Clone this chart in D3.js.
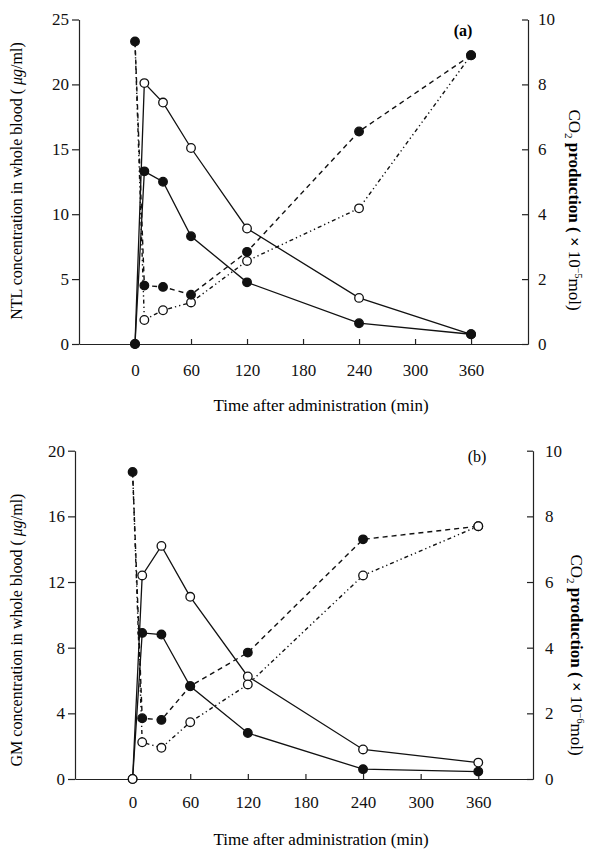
<!DOCTYPE html>
<html lang="en">
  <head>
    <meta charset="UTF-8" />
    <title>NTL / GM concentration and CO2 production</title>
    <script src="https://cdn.jsdelivr.net/npm/d3@7"></script>
    <style>
      body {
        margin: 0;
        background: #fff;
      }
      svg {
        font-family: "Liberation Serif", "DejaVu Serif", serif;
        color: #111;
      }
    </style>
  </head>
  <body>
    <script>
      // sampling times (min)
      const times = [0, 10, 30, 60, 120, 240, 360];
      const xTicks = [0, 60, 120, 180, 240, 300, 360];

      // panel (a): NTL in whole blood (ug/ml), left axis
      const ntlFilled = [0, 13.3, 12.5, 8.3, 4.75, 1.6, 0.75];
      const ntlOpen = [0, 20.1, 18.6, 15.1, 8.9, 3.55, 0.75];
      // panel (a): CO2 production, right axis
      const co2FilledA = [9.32, 1.8, 1.76, 1.52, 2.84, 6.55, 8.9];
      const co2OpenA = [9.32, 0.74, 1.04, 1.28, 2.56, 4.18, 8.9];

      // panel (b): GM in whole blood (ug/ml), left axis
      const gmFilled = [0, 8.9, 8.8, 5.65, 2.8, 0.6, 0.45];
      const gmOpen = [0, 12.4, 14.2, 11.1, 6.25, 1.8, 1.0];
      // panel (b): CO2 production, right axis
      const co2FilledB = [9.35, 1.85, 1.8, 2.83, 3.85, 7.3, 7.7];
      const co2OpenB = [9.35, 1.12, 0.95, 1.73, 2.88, 6.2, 7.7];

      const leftTicksA = [0, 5, 10, 15, 20, 25];
      const leftTicksB = [0, 4, 8, 12, 16, 20];
      const rightTicks = [0, 2, 4, 6, 8, 10];

      const width = 589;
      const height = 849;

      const svg = d3
        .select("body")
        .append("svg")
        .attr("width", width)
        .attr("height", height);

      function drawPanel(p) {
        const g = svg.append("g");
        const x = d3.scaleLinear().domain(p.xDomain).range(p.xRange);
        const yL = d3.scaleLinear().domain([0, p.leftMax]).range(p.yRange);
        const yR = d3.scaleLinear().domain([0, 10]).range(p.yRange);

        // axes
        const xAxis = d3
          .axisBottom(x)
          .tickValues(xTicks)
          .tickSize(-5)
          .tickSizeOuter(0)
          .tickPadding(p.xPad);
        const gx = g
          .append("g")
          .attr("transform", "translate(0," + p.yRange[0] + ")")
          .call(xAxis);

        const gl = g
          .append("g")
          .attr("transform", "translate(" + p.xRange[0] + ",0)")
          .call(
            d3
              .axisLeft(yL)
              .tickValues(p.leftTicks)
              .tickSize(7)
              .tickSizeOuter(0)
              .tickPadding(3)
          );

        const gr = g
          .append("g")
          .attr("transform", "translate(" + p.xRange[1] + ",0)")
          .call(
            d3
              .axisRight(yR)
              .tickValues(rightTicks)
              .tickSize(-6)
              .tickSizeOuter(0)
              .tickPadding(p.rPad)
          );

        [gx, gl, gr].forEach(a => {
          a.selectAll("text")
            .style("font-size", "17px")
            .style("font-family", "Liberation Serif")
            .attr("fill", "#111");
          a.selectAll("path,line").attr("stroke", "#222").attr("stroke-width", 1.2);
        });

        // lines
        p.series.forEach(s => {
          const y = s.axis === "left" ? yL : yR;
          const line = d3
            .line()
            .x((d, i) => x(times[i]))
            .y(d => y(d));
          g.append("path")
            .datum(s.values)
            .attr("fill", "none")
            .attr("stroke", "#111")
            .attr("stroke-width", s.dash ? 1.4 : 1.3)
            .attr("stroke-dasharray", s.dash || null)
            .attr("d", line);
        });

        // markers
        p.series.forEach(s => {
          const y = s.axis === "left" ? yL : yR;
          g.selectAll(null)
            .data(s.values.map((v, i) => ({ t: times[i], v: v, i: i })))
            .enter()
            .filter(d => !(s.skipFirst && d.i === 0))
            .append("circle")
            .attr("cx", d => x(d.t))
            .attr("cy", d => y(d.v))
            .attr("r", 4.3)
            .attr("fill", s.filled ? "#111" : "#fff")
            .attr("stroke", "#111")
            .attr("stroke-width", 1.3);
        });

        // axis titles
        g.append("text")
          .attr("x", 321)
          .attr("y", p.xTitleY)
          .attr("text-anchor", "middle")
          .style("font-size", "17px")
          .text("Time after administration (min)");

        const lt = g
          .append("text")
          .attr("transform", "translate(" + p.leftTitle[0] + "," + p.leftTitle[1] + ") rotate(-90)")
          .attr("text-anchor", "middle")
          .style("font-size", "16px");
        lt.append("tspan").text(p.leftLabel + " ( ");
        lt.append("tspan").style("font-style", "italic").text("μg");
        lt.append("tspan").text("/ml)");

        const rt = g
          .append("text")
          .attr("transform", "translate(" + p.rightTitle[0] + "," + p.rightTitle[1] + ") rotate(90)")
          .attr("text-anchor", "middle")
          .style("font-size", "17px");
        rt.append("tspan").text("CO");
        rt.append("tspan").attr("dy", 4).style("font-size", "11px").text("2");
        rt.append("tspan").attr("dy", -4).style("font-weight", "bold").text(" production ( × ");
        rt.append("tspan").text("10");
        rt.append("tspan").attr("dy", -6).style("font-size", "10px").text(p.exponent);
        rt.append("tspan").attr("dy", 6).text("mol)");

        g.append("text")
          .attr("x", p.tag[0])
          .attr("y", p.tag[1])
          .attr("text-anchor", "middle")
          .style("font-size", "16px")
          .style("font-weight", p.tagBold ? "bold" : "normal")
          .text(p.tagText);
      }

      drawPanel({
        xDomain: [-60, 421],
        xRange: [79, 528],
        yRange: [344, 19.5],
        leftMax: 25,
        leftTicks: leftTicksA,
        xPad: 20,
        rPad: 10,
        xTitleY: 411,
        leftLabel: "NTL concentration in whole blood",
        leftTitle: [22, 181],
        rightTitle: [569, 210],
        exponent: "−5",
        tag: [463, 36],
        tagText: "(a)",
        tagBold: true,
        series: [
          { values: ntlOpen, axis: "left", filled: false },
          { values: ntlFilled, axis: "left", filled: true },
          { values: co2OpenA, axis: "right", filled: false, dash: "1.3,3,1.3,3,4,3", skipFirst: true },
          { values: co2FilledA, axis: "right", filled: true, dash: "5,4" }
        ]
      });

      drawPanel({
        xDomain: [-60, 417],
        xRange: [75, 533],
        yRange: [779, 450.7],
        leftMax: 20,
        leftTicks: leftTicksB,
        xPad: 17,
        rPad: 12,
        xTitleY: 845,
        leftLabel: "GM concentration in whole blood",
        leftTitle: [22, 630],
        rightTitle: [571, 655],
        exponent: "−6",
        tag: [477, 462],
        tagText: "(b)",
        tagBold: false,
        series: [
          { values: gmFilled, axis: "left", filled: true },
          { values: gmOpen, axis: "left", filled: false },
          { values: co2FilledB, axis: "right", filled: true, dash: "5,4" },
          { values: co2OpenB, axis: "right", filled: false, dash: "1.3,3,1.3,3,4,3", skipFirst: true }
        ]
      });
    </script>
  </body>
</html>
